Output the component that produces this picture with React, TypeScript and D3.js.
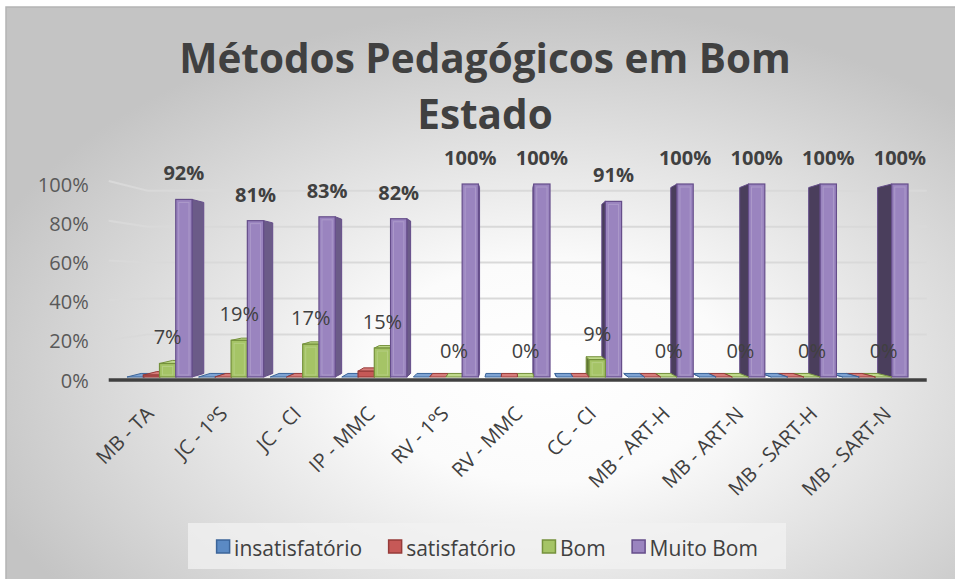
import React from 'react';
import * as d3 from 'd3';

const categories = ['MB - TA', 'JC - 1ºS', 'JC - CI', 'IP - MMC', 'RV - 1ºS', 'RV - MMC', 'CC - CI', 'MB - ART-H', 'MB - ART-N', 'MB - SART-H', 'MB - SART-N'];
const seriesNames = ['insatisfatório', 'satisfatório', 'Bom', 'Muito Bom'];
const insatisfatorio = [0, 0, 0, 0, 0, 0, 0, 0, 0, 0, 0];
const satisfatorio = [0.01, 0, 0, 0.03, 0, 0, 0, 0, 0, 0, 0];
const bom = [0.07, 0.19, 0.17, 0.15, 0, 0, 0.09, 0, 0, 0, 0];
const muitoBom = [0.92, 0.81, 0.83, 0.82, 1, 1, 0.91, 1, 1, 1, 1];
const yTicks = [0, 0.2, 0.4, 0.6, 0.8, 1];
const labelledSeries = ['Bom', 'Muito Bom'];
const titleLines = ['Métodos Pedagógicos em Bom', 'Estado'];

const seriesValues = [insatisfatorio, satisfatorio, bom, muitoBom];

type Pal = { front: string; stroke: string; sideL: string; sideR: string; top: string };
const palette: Pal[] = [
  { front: '#5b8ac4', stroke: '#3b6499', sideL: '#3f6699', sideR: '#2f4f78', top: '#7ea3d3' },
  { front: '#c65957', stroke: '#963b39', sideL: '#9a403e', sideR: '#7a3230', top: '#d67c7a' },
  { front: '#a5c466', stroke: '#75913c', sideL: '#7d9a44', sideR: '#5f7633', top: '#c0da8c' },
  { front: '#9a84bf', stroke: '#654d8a', sideL: '#6b5b88', sideR: '#4a3e5c', top: '#b6a6d2' },
];

const W = 955;
const H = 579;
const FONT = '"Open Sans", "DejaVu Sans", sans-serif';

const vp = { x: 510, y: 281 };
const sBack = 0.963;
const sWall = 0.93;
const sFloor = 1.03;
const proj = (X: number, Y: number, s: number): [number, number] => [vp.x + (X - vp.x) * s, vp.y + (Y - vp.y) * s];

const x0 = d3.scaleBand<string>().domain(categories).range([120.4, 914.6]).paddingInner(0.092).paddingOuter(0.092);
const x1 = d3.scaleBand<string>().domain(seriesNames).range([0, x0.bandwidth()]);
const y = d3.scaleLinear().domain([0, 1]).range([377, 184]);
const yLabel = d3.scaleLinear().domain([0, 1]).range([380, 184]);

const pct = d3.format('.0%');

function measure(txt: string, font: string) {
  const c = document.createElement('canvas').getContext('2d');
  if (!c) return txt.length * 10;
  c.font = font;
  return c.measureText(txt).width;
}

const poly = (pts: [number, number][]) => pts.map((p) => p.join(',')).join(' ');

export default function App() {
  type Bar = { X0: number; X1: number; Yt: number; Yb: number; pal: Pal; key: string; dist: number };
  const bars: Bar[] = [];
  categories.forEach((c, ci) => {
    seriesNames.forEach((s, si) => {
      const X0 = (x0(c) as number) + (x1(s) as number);
      const X1 = X0 + x1.bandwidth();
      bars.push({
        X0, X1,
        Yt: y(seriesValues[si][ci]),
        Yb: y(0),
        pal: palette[si],
        key: `${ci}-${si}`,
        dist: Math.abs((X0 + X1) / 2 - vp.x),
      });
    });
  });
  bars.sort((a, b) => b.dist - a.dist);

  const [xL, xR] = x0.range();
  const gridLines = yTicks.filter((t) => t > 0).map((t) => {
    const a = proj(xL, y(t), sFloor);
    const b = proj(xL, y(t), sWall);
    const c = [proj(xR, y(t), sFloor)[0], b[1]];
    return `M${a[0]},${a[1]}L${b[0]},${b[1]}L${c[0]},${c[1]}`;
  });
  const floorA = proj(xL, y(0), sFloor);
  const floorB = proj(xR, y(0), sFloor);

  // legend layout
  const legFont = `21px ${FONT}`;
  const sq = 14;
  const sqGap = 4;
  const itemGap = 26;
  const widths = seriesNames.map((n) => sq + sqGap + measure(n, legFont));
  const totalW = d3.sum(widths) + itemGap * (seriesNames.length - 1);
  const legBox = { x: 188, y: 523, w: 598, h: 46 };
  let cursor = legBox.x + legBox.w / 2 - totalW / 2;
  const legendItems = seriesNames.map((n, i) => {
    const item = { name: n, x: cursor, pal: palette[i] };
    cursor += widths[i] + itemGap;
    return item;
  });
  const legCy = legBox.y + legBox.h / 2 + 2;

  return (
    <div style={{ position: 'fixed', left: 0, top: 0, width: W, height: H, background: '#fff' }}>
      <svg width={W} height={H} style={{ display: 'block', fontFamily: FONT }}>
        <defs>
          <radialGradient id="bg" cx="0.56" cy="0.62" r="0.62">
            <stop offset="0" stopColor="#ffffff" />
            <stop offset="0.3" stopColor="#fbfbfb" />
            <stop offset="1" stopColor="#c4c4c4" />
          </radialGradient>
        </defs>
        <rect x={6} y={7} width={W + 10} height={H + 10} fill="url(#bg)" stroke="#b4b4b4" strokeWidth={1.5} />

        {/* title */}
        <text x={485} textAnchor="middle" fontSize={40.5} fontWeight={700} fill="#404040">
          {titleLines.map((l, i) => (
            <tspan key={i} x={485} y={73 + i * 56}>{l}</tspan>
          ))}
        </text>

        {/* gridlines */}
        {gridLines.map((d, i) => (
          <path key={i} d={d} fill="none" stroke="#d9d9d9" strokeWidth={2} />
        ))}

        {/* y tick labels */}
        {yTicks.map((t) => (
          <text key={t} x={floorA[0] - 20} y={yLabel(t)} textAnchor="end" dominantBaseline="central" fontSize={20} fill="#595959">
            {pct(t)}
          </text>
        ))}

        {/* floor front line */}
        <line x1={floorA[0]} y1={floorA[1]} x2={floorB[0]} y2={floorB[1]} stroke="#404040" strokeWidth={3.5} />

        {/* bars */}
        {bars.map((b) => {
          const { X0, X1, Yt, Yb, pal } = b;
          const faces: React.ReactNode[] = [];
          if (X1 < vp.x) {
            faces.push(
              <polygon key="s" points={poly([proj(X1, Yt, 1), proj(X1, Yt, sBack), proj(X1, Yb, sBack), proj(X1, Yb, 1)])} fill={pal.sideL} stroke={pal.stroke} strokeWidth={1} strokeLinejoin="round" />
            );
          } else if (X0 > vp.x) {
            faces.push(
              <polygon key="s" points={poly([proj(X0, Yt, 1), proj(X0, Yt, sBack), proj(X0, Yb, sBack), proj(X0, Yb, 1)])} fill={pal.sideR} stroke={pal.stroke} strokeWidth={1} strokeLinejoin="round" />
            );
          }
          if (Yt > vp.y) {
            faces.push(
              <polygon key="t" points={poly([proj(X0, Yt, 1), proj(X1, Yt, 1), proj(X1, Yt, sBack), proj(X0, Yt, sBack)])} fill={pal.top} stroke={pal.stroke} strokeWidth={1} strokeLinejoin="round" />
            );
          }
          if (Yb - Yt > 0.5) {
            faces.push(
              <rect key="f" x={X0} y={Yt} width={X1 - X0} height={Yb - Yt} fill={pal.front} stroke={pal.stroke} strokeWidth={1.2} />
            );
            if (Yb - Yt > 6) {
              faces.push(
                <rect key="fi" x={X0 + 3} y={Yt + 3} width={X1 - X0 - 6} height={Yb - Yt - 5} fill="none" stroke="#ffffff" strokeOpacity={0.18} strokeWidth={1} />
              );
            }
          }
          return <g key={b.key}>{faces}</g>;
        })}

        {/* data labels */}
        {categories.map((c, ci) =>
          labelledSeries.map((s) => {
            const si = seriesNames.indexOf(s);
            const v = seriesValues[si][ci];
            const cx = (x0(c) as number) + (x1(s) as number) + x1.bandwidth() / 2;
            return (
              <text key={`${ci}-${s}`} x={cx} y={y(v) - 19} textAnchor="middle" fontSize={20} fontWeight={s === 'Muito Bom' ? 700 : 400} fill="#404040">
                {pct(v)}
              </text>
            );
          })
        )}

        {/* x labels */}
        {categories.map((c) => {
          const cx = (x0(c) as number) + x0.bandwidth() / 2;
          const ax = proj(cx, y(0), sFloor)[0] + 6;
          const ay = 415;
          return (
            <text key={c} x={ax} y={ay} transform={`rotate(-45 ${ax} ${ay})`} textAnchor="end" fontSize={20} fill="#404040">
              {c}
            </text>
          );
        })}

        {/* legend */}
        <rect x={legBox.x} y={legBox.y} width={legBox.w} height={legBox.h} fill="#f2f2f2" fillOpacity={0.75} />
        {legendItems.map((it) => (
          <g key={it.name}>
            <rect x={it.x + 0.5} y={legCy - sq / 2 - 1} width={sq - 1} height={sq - 1} fill={it.pal.front} stroke={it.pal.stroke} strokeWidth={1.5} />
            <text x={it.x + sq + sqGap} y={legCy} dominantBaseline="central" fontSize={21} fill="#404040">
              {it.name}
            </text>
          </g>
        ))}
      </svg>
    </div>
  );
}
